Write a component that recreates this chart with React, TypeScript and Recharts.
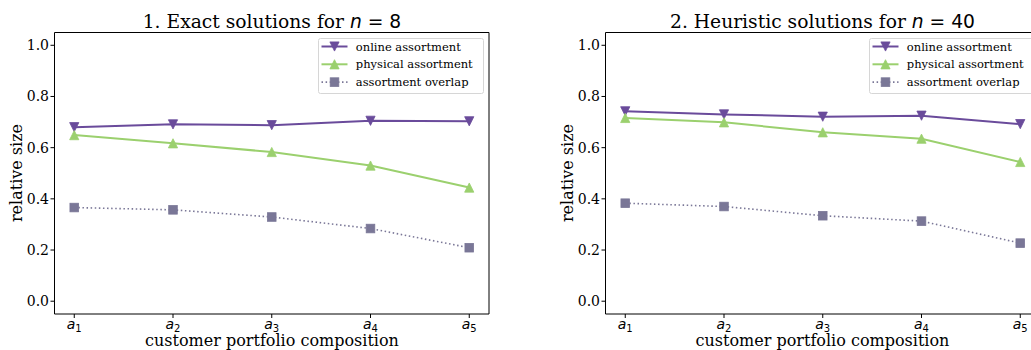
import React from "react";
import { LineChart, Line, XAxis, YAxis, Legend } from "recharts";

// x categories (a_1 ... a_5), stored as base letter + subscript
const categories = ["a1", "a2", "a3", "a4", "a5"];

// panel 1: exact solutions, n = 8
const exactOnline = [0.68, 0.691, 0.688, 0.705, 0.703];
const exactPhysical = [0.649, 0.617, 0.583, 0.53, 0.444];
const exactOverlap = [0.366, 0.357, 0.329, 0.284, 0.209];

// panel 2: heuristic solutions, n = 40
const heurOnline = [0.742, 0.73, 0.721, 0.725, 0.692];
const heurPhysical = [0.716, 0.699, 0.66, 0.635, 0.544];
const heurOverlap = [0.383, 0.37, 0.334, 0.313, 0.227];

const yTicks = [0, 0.2, 0.4, 0.6, 0.8, 1.0];

const ONLINE = "#6a4b9b";
const PHYSICAL = "#9bd06e";
const OVERLAP = "#7a7797";
const SERIF = "'DejaVu Serif', serif";
const SANS = "'DejaVu Sans', sans-serif";

const seriesInfo = [
  { key: "online", name: "online assortment", color: ONLINE, marker: "down", dash: undefined, width: 2 },
  { key: "physical", name: "physical assortment", color: PHYSICAL, marker: "up", dash: undefined, width: 2 },
  { key: "overlap", name: "assortment overlap", color: OVERLAP, marker: "square", dash: "1.5 2.6", width: 1.6 },
];

function buildRows(online: number[], physical: number[], overlap: number[]) {
  return categories.map((c, i) => ({
    x: i + 1,
    online: online[i],
    physical: physical[i],
    overlap: overlap[i],
  }));
}

function Marker({ type, cx, cy, color }: any) {
  const s = 4.6;
  if (type === "down") {
    return <polygon points={`${cx - s},${cy - s} ${cx + s},${cy - s} ${cx},${cy + s}`} fill={color} stroke={color} strokeWidth={0.8} />;
  }
  if (type === "up") {
    return <polygon points={`${cx - s},${cy + s} ${cx + s},${cy + s} ${cx},${cy - s}`} fill={color} stroke={color} strokeWidth={0.8} />;
  }
  return <rect x={cx - 4.3} y={cy - 4.3} width={8.6} height={8.6} fill={color} stroke={color} strokeWidth={0.8} />;
}

const makeDot = (type: string, color: string) => (props: any) => {
  const { cx, cy, index } = props;
  return <Marker key={index} type={type} cx={cx} cy={cy} color={color} />;
};

// axis line sits at plot bottom (314); label baseline ~329
const XTick = ({ x, payload }: any) => {
  const label = categories[payload.value - 1] || "";
  return (
    <text x={x} y={329} textAnchor="middle" fontFamily={SANS} fontSize={14} fill="#000">
      <tspan fontStyle="italic">{label[0]}</tspan>
      <tspan fontSize={10} dy={2.5}>{label.slice(1)}</tspan>
    </text>
  );
};

const LegendBox = () => (
  <svg width={166} height={57} style={{ display: "block" }}>
    <rect x={0.5} y={0.5} width={165} height={55} rx={2} fill="#fff" fillOpacity={0.8} stroke="#d6d6d6" />
    {seriesInfo.map((s, i) => {
      const y = 8.5 + i * 17.8;
      return (
        <g key={s.key}>
          <line x1={3.5} x2={29.5} y1={y} y2={y} stroke={s.color} strokeWidth={s.width} strokeDasharray={s.dash} />
          <Marker type={s.marker} cx={16.5} cy={y} color={s.color} />
          <text x={37.8} y={y + 4} fontFamily={SERIF} fontSize={11.5} fill="#000">{s.name}</text>
        </g>
      );
    })}
  </svg>
);

function Panel({ rows, left }: { rows: any[]; left: number }) {
  return (
    <div style={{ position: "absolute", left, top: 0 }}>
      <LineChart width={520} height={350} data={rows} margin={{ left: 53.5, right: 30, top: 31.5, bottom: 35 }}>
        <XAxis
          type="number"
          dataKey="x"
          domain={[0.8, 5.2]}
          ticks={[1, 2, 3, 4, 5]}
          allowDataOverflow
          height={1}
          tick={<XTick />}
          tickSize={4}
          stroke="#000"
          tickLine={{ stroke: "#000" }}
        />
        <XAxis xAxisId="top" orientation="top" type="number" dataKey="x" domain={[0.8, 5.2]} height={1} tick={false} tickLine={false} stroke="#000" />
        <YAxis
          domain={[-0.05, 1.05]}
          ticks={yTicks}
          allowDataOverflow
          width={1}
          tickSize={4}
          tickMargin={1.5}
          tickFormatter={(v: number) => v.toFixed(1)}
          tick={{ fontFamily: SERIF, fontSize: 14, fill: "#000" }}
          stroke="#000"
          tickLine={{ stroke: "#000" }}
        />
        <YAxis yAxisId="right" orientation="right" domain={[-0.05, 1.05]} width={1} tick={false} tickLine={false} stroke="#000" />
        {seriesInfo.map((s) => (
          <Line
            key={s.key}
            dataKey={s.key}
            name={s.name}
            type="linear"
            stroke={s.color}
            strokeWidth={s.width}
            strokeDasharray={s.dash}
            dot={makeDot(s.marker, s.color)}
            activeDot={false}
            isAnimationActive={false}
          />
        ))}
        <Legend
          layout="vertical"
          align="center"
          verticalAlign="middle"
          content={<LegendBox />}
          wrapperStyle={{ position: "absolute", left: 318, top: 38, width: 166, height: 57 }}
        />
      </LineChart>
    </div>
  );
}

function Texts({ dx, num, prefix }: { dx: number; num: string; prefix: string }) {
  const cx = dx + 272;
  return (
    <g>
      <text x={cx} y={28} textAnchor="middle" fontFamily={SERIF} fontSize={18.7} fill="#000">
        {prefix}
        <tspan fontFamily={SANS} fontStyle="italic">n</tspan>
        <tspan fontFamily={SANS}>{" = " + num}</tspan>
      </text>
      <text x={dx + 22} y={173} transform={`rotate(-90 ${dx + 22} 173)`} textAnchor="middle" fontFamily={SERIF} fontSize={16} fill="#000">
        relative size
      </text>
      <text x={cx} y={346} textAnchor="middle" fontFamily={SERIF} fontSize={16} fill="#000">
        customer portfolio composition
      </text>
    </g>
  );
}

export default function App() {
  const exactRows = buildRows(exactOnline, exactPhysical, exactOverlap);
  const heurRows = buildRows(heurOnline, heurPhysical, heurOverlap);
  return (
    <div style={{ position: "absolute", left: 0, top: 0, width: 1031, height: 350, overflow: "hidden", background: "#fff" }}>
      <Panel rows={exactRows} left={0} />
      <Panel rows={heurRows} left={550.5} />
      <svg width={1031} height={350} style={{ position: "absolute", left: 0, top: 0, pointerEvents: "none" }}>
        <Texts dx={0} prefix="1. Exact solutions for " num="8" />
        <Texts dx={550.5} prefix="2. Heuristic solutions for " num="40" />
      </svg>
    </div>
  );
}
